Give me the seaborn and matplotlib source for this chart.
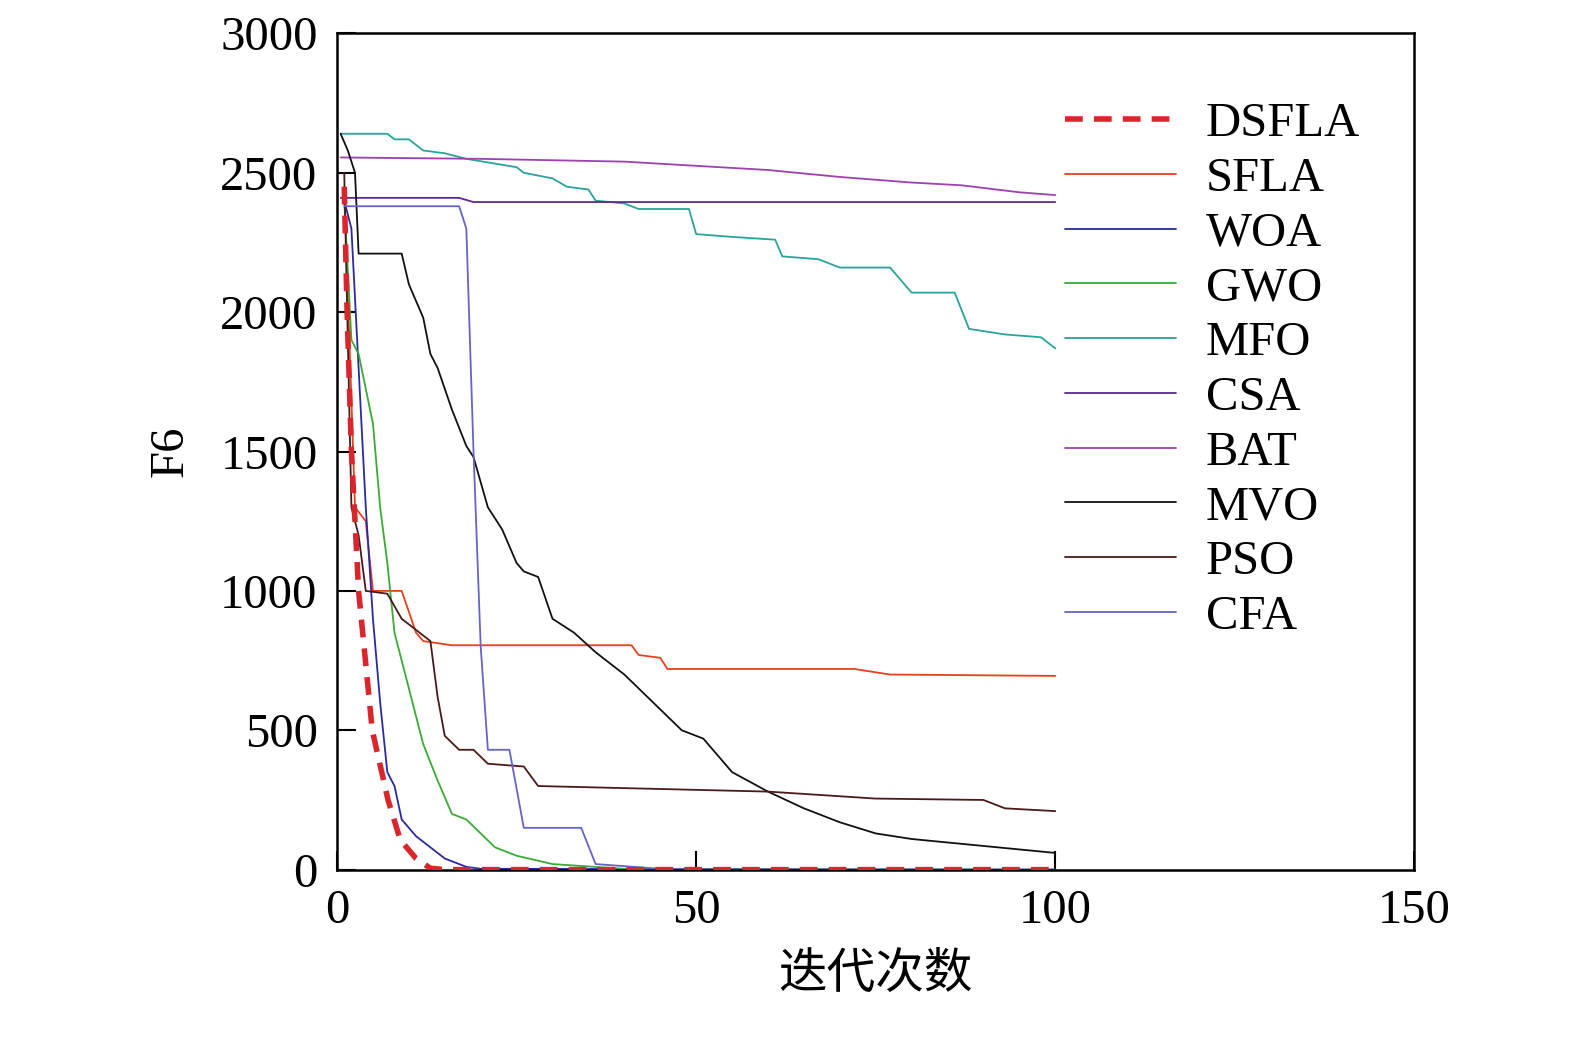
import numpy as np
import pandas as pd
import seaborn as sns
import matplotlib.pyplot as plt

names = ['DSFLA', 'SFLA', 'WOA', 'GWO', 'MFO', 'CSA', 'BAT', 'MVO', 'PSO', 'CFA']
colors = ['#d9262c', '#e8401c', '#2a2aa0', '#3aaa35', '#2aa39a', '#5b2b8f', '#a040b0', '#111111', '#4a1a1a', '#6464c8']

# breakpoints (iteration, fitness)
dsfla_x = [1, 1.4, 2, 3, 4.9, 7.1, 8.8, 11, 13, 15, 100]
dsfla_y = [2450, 2000, 1500, 1000, 500, 250, 107, 40, 5, 0, 0]
sfla_x = [1, 2.5, 4, 5, 9, 11, 12, 16, 41, 42, 45, 46, 72, 77, 100]
sfla_y = [2450, 1300, 1250, 1000, 1000, 850, 820, 805, 805, 770, 760, 720, 720, 700, 695]
woa_x = [1, 2, 3, 4, 5, 6, 7, 8, 9, 11, 13, 15, 18, 20, 100]
woa_y = [2400, 2300, 1800, 1300, 900, 600, 350, 300, 180, 120, 80, 40, 10, 3, 0]
gwo_x = [1, 2, 3, 5, 6, 7, 8, 10, 12, 14, 16, 18, 20, 22, 25, 30, 40, 50, 100]
gwo_y = [2400, 1900, 1850, 1600, 1300, 1100, 850, 650, 450, 320, 200, 180, 130, 80, 50, 20, 3, 0, 0]
mfo_x = [0.5, 7, 8, 10, 12, 15, 18, 25, 26, 30, 32, 35, 36, 40, 42, 49, 50, 55, 61, 62, 67, 70, 77, 80, 86, 88, 93, 98, 100]
mfo_y = [2640, 2640, 2620, 2620, 2580, 2570, 2550, 2520, 2500, 2480, 2450, 2440, 2400, 2390, 2370, 2370, 2280, 2270, 2260, 2200, 2190, 2160, 2160, 2070, 2070, 1940, 1920, 1910, 1870]
csa_x = [0.5, 17, 19, 100]
csa_y = [2410, 2410, 2395, 2395]
bat_x = [0.5, 20, 40, 60, 70, 80, 87, 95, 100]
bat_y = [2555, 2550, 2540, 2510, 2485, 2465, 2455, 2430, 2420]
mvo_x = [0.5, 1.5, 2.5, 3, 9, 10, 12, 13, 14, 16, 18, 19, 21, 23, 25, 26, 28, 30, 33, 36, 40, 44, 48, 51, 55, 60, 65, 70, 75, 80, 90, 100]
mvo_y = [2640, 2580, 2500, 2210, 2210, 2100, 1980, 1850, 1800, 1650, 1520, 1480, 1300, 1220, 1100, 1070, 1050, 900, 850, 780, 700, 600, 500, 470, 350, 280, 220, 170, 130, 110, 85, 60]
pso_x = [1, 2, 3, 4, 7, 9, 11, 13, 14, 15, 17, 19, 21, 26, 28, 60, 75, 90, 93, 100]
pso_y = [2500, 1300, 1200, 1000, 990, 900, 860, 820, 620, 480, 430, 430, 380, 370, 300, 280, 255, 250, 220, 210]
cfa_x = [1, 17, 18, 19, 20, 21, 24, 26, 34, 36, 44, 50, 100]
cfa_y = [2380, 2380, 2300, 1500, 800, 430, 430, 150, 150, 20, 5, 0, 0]

xs = [dsfla_x, sfla_x, woa_x, gwo_x, mfo_x, csa_x, bat_x, mvo_x, pso_x, cfa_x]
ys = [dsfla_y, sfla_y, woa_y, gwo_y, mfo_y, csa_y, bat_y, mvo_y, pso_y, cfa_y]

sns.set_style('ticks')
plt.rcParams['font.family'] = ['Liberation Serif', 'Noto Sans CJK SC']
plt.rcParams['xtick.direction'] = 'in'
plt.rcParams['ytick.direction'] = 'in'
plt.rcParams['text.color'] = 'black'
plt.rcParams['xtick.color'] = 'black'
plt.rcParams['ytick.color'] = 'black'
plt.rcParams['axes.labelcolor'] = 'black'

fig = plt.figure(figsize=(15.75, 10.44), dpi=100)
ax = fig.add_axes([0.214, 0.167, 0.684, 0.801])

for name, c, x, y in zip(names, colors, xs, ys):
    df = pd.DataFrame({'x': x, 'y': y})
    if name == 'DSFLA':
        sns.lineplot(data=df, x='x', y='y', ax=ax, color=c, lw=4, ls=(0, (3.2, 2.0)), label=name, zorder=5)
    else:
        sns.lineplot(data=df, x='x', y='y', ax=ax, color=c, lw=1.3, label=name)

ax.set_xlim(0, 150)
ax.set_ylim(0, 3000)
ax.set_xticks([0, 50, 100, 150])
ax.set_yticks(range(0, 3001, 500))
ax.tick_params(labelsize=35, length=14, width=1.5, pad=14)
for s in ax.spines.values():
    s.set_linewidth(1.8)
    s.set_color('black')
ax.set_xlabel('迭代次数', fontsize=35, family=['Noto Sans CJK SC'], labelpad=12)
ax.set_ylabel('F6', fontsize=35, labelpad=20)

ax.legend(loc='upper right', bbox_to_anchor=(0.99, 0.97), frameon=False, fontsize=35,
          handlelength=2.3, labelspacing=0.22, handletextpad=0.6)

fig.savefig('out.png', dpi=100)
